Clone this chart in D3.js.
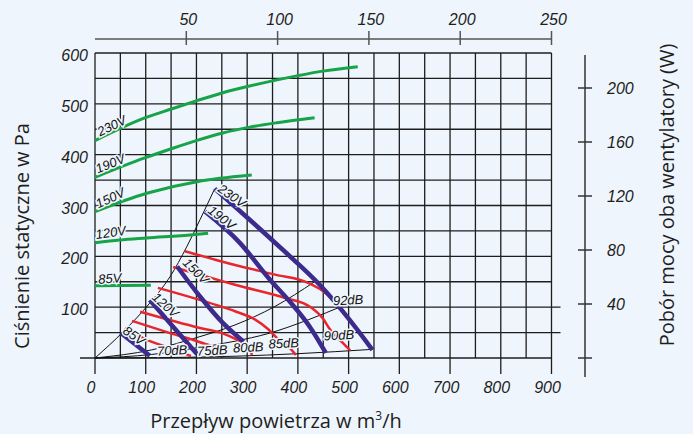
<!DOCTYPE html>
<html><head><meta charset="utf-8">
<script src="https://cdn.jsdelivr.net/npm/d3@7/dist/d3.min.js"></script>
<style>html,body{margin:0;padding:0;background:#eef5fc;overflow:hidden}</style>
</head><body><svg id="c" width="693" height="434"></svg>
<script>
// ---------- data ----------
const flowTicks = [0,100,200,300,400,500,600,700,800,900];
const pressureTicks = [100,200,300,400,500,600];
const powerTicks = [0,40,80,120,160,200];
const topTicks = [50,100,150,200,250];

// power curves [flow m3/h, power W]
const power230 = [[0,161],[98,177.8],[152,184.6],[201,190.6],[252,196.5],[305,201.5],[350,205.3],[398,209],[449,212.5],[518,215.8]];
const power190 = [[0,133.9],[98,148.2],[152,155.2],[201,161.2],[252,166.7],[305,171],[359,174.3],[433,178]];
const power150 = [[0,108.4],[102,122],[201,130.6],[246,133.1],[309,135.6]];
const power120 = [[0,85.4],[49,87.4],[102,88.9],[193,91.3],[223,92.4]];
const power85  = [[0,53.5],[110,53.8]];
const powerNames = ["230V","190V","150V","120V","85V"];

// fan curves [flow, Pa]
const fan230 = [[236,333],[305,272],[370,213],[443,144],[502,75],[547,16]];
const fan190 = [[217,288],[286,226],[345,154],[384,111],[423,62],[455,10]];
const fan150 = [[162,180],[207,121],[253,68],[293,32]];
const fan120 = [[108,114],[151,65],[201,8]];
const fan85  = [[51,49],[108,4.5]];
const fanNames = ["230V","190V","150V","120V","85V"];

// system curves [flow, Pa]
const sysEnvelope = [[0,0],[56,52],[108,108],[148,160],[181,219],[207,272],[236,333]];
const sysA = [[0,0],[112,16],[200,40],[276,65],[354,101],[433,150]];
const sysB = [[0,0],[112,7],[200,20],[276,33],[341,48],[420,75],[492,104]];
const sysC = [[0,0],[150,1],[276,3.5],[400,8.5],[547,17]];

// noise curves [flow, Pa]
const db92 = [[177,210],[276,183],[355,164],[420,148],[449,132],[467,117],[489,92]];
const db90 = [[154,179],[231,157],[276,144],[375,118],[425,100],[449,78],[462,58],[487,31],[503,15]];
const db85 = [[124,138],[240,104],[276,92],[315,76],[341,57],[358,40],[384,20],[396,6]];
const db80 = [[89,91],[207,59],[253,48],[280,36],[296,27],[310,6]];
const db75 = [[73,73],[148,49],[207,31],[237,19],[252,4]];
const db70 = [[59,59],[104,35],[152,18],[189,4]];
const dbNames = ["92dB","90dB","85dB","80dB","75dB","70dB"];

// ---------- layout ----------
const BG = "#eef5fc", INK = "#1e1e1e";
const x = d3.scaleLinear().domain([0,900]).range([95,551.5]);
const xTop = d3.scaleLinear().domain([0,250]).range([95,551.5]);
const yP = d3.scaleLinear().domain([0,600]).range([358,53]);
const yW = d3.scaleLinear().domain([0,200]).range([358,88]);

const svg = d3.select("#c");
svg.append("rect").attr("width",693).attr("height",434).attr("fill",BG);

const numFont = "'Liberation Sans', Arial, sans-serif";
const titleFont = "'Open Sans', 'Noto Sans', sans-serif";

// grid
const g = svg.append("g").attr("stroke",INK).attr("stroke-width",1.3).attr("fill","none");
d3.range(0,901,50).forEach(v=>{
  g.append("line").attr("x1",x(v)).attr("x2",x(v)).attr("y1",yP(600))
   .attr("y2", v%100===0 ? yP(0)+16 : yP(0));
});
d3.range(0,601,50).forEach(v=>{
  let x1 = v===0 ? x(0)-15 : x(0);
  let x2 = (v===50||v===100) ? x(900)+9 : x(900);
  g.append("line").attr("x1",x1).attr("x2",x2).attr("y1",yP(v)).attr("y2",yP(v));
});

// top axis
const ta = svg.append("g").attr("stroke","#555").attr("stroke-width",1.5);
ta.append("line").attr("x1",xTop(0)).attr("x2",xTop(250)).attr("y1",39).attr("y2",39);
topTicks.forEach(t=>ta.append("line").attr("x1",xTop(t)).attr("x2",xTop(t)).attr("y1",31).attr("y2",45));
svg.append("g").selectAll("text").data(topTicks).join("text")
  .attr("x",d=>xTop(d)+2).attr("y",25).attr("text-anchor","middle")
  .attr("font-family",numFont).attr("font-style","italic").attr("font-size",16).attr("fill",INK)
  .text(d=>d);

// right axis
const ra = svg.append("g").attr("stroke","#333").attr("stroke-width",1.5);
ra.append("line").attr("x1",585).attr("x2",585).attr("y1",55).attr("y2",377);
powerTicks.forEach(t=>ra.append("line").attr("x1",578).attr("x2",592).attr("y1",yW(t)).attr("y2",yW(t)));
svg.append("g").selectAll("text").data(powerTicks.filter(d=>d>0)).join("text")
  .attr("x",607).attr("y",d=>yW(d)+6).attr("text-anchor","start")
  .attr("font-family",numFont).attr("font-style","italic").attr("font-size",16).attr("fill",INK)
  .text(d=>d);

// left & bottom tick labels
svg.append("g").selectAll("text").data(pressureTicks).join("text")
  .attr("x",88).attr("y",d=>yP(d)+8).attr("text-anchor","end")
  .attr("font-family",numFont).attr("font-style","italic").attr("font-size",16).attr("fill",INK)
  .text(d=>d);
svg.append("g").selectAll("text").data(flowTicks).join("text")
  .attr("x",d=>x(d)-4).attr("y",393).attr("text-anchor","middle")
  .attr("font-family",numFont).attr("font-style","italic").attr("font-size",16).attr("fill",INK)
  .text(d=>d);

// titles
svg.append("text").attr("x",276).attr("y",428).attr("text-anchor","middle")
  .attr("font-family",titleFont).attr("font-size",20).attr("fill",INK)
  .html("Przepływ powietrza w m<tspan font-size='12' dy='-8'>3</tspan><tspan dy='8'>/h</tspan>");
svg.append("text").attr("transform","translate(29,236) rotate(-90)").attr("text-anchor","middle")
  .attr("font-family",titleFont).attr("font-size",20).attr("fill",INK)
  .text("Ciśnienie statyczne w Pa");
svg.append("text").attr("transform","translate(674,195) rotate(-90)").attr("text-anchor","middle")
  .attr("font-family",titleFont).attr("font-size",20).attr("fill",INK)
  .text("Pobór mocy oba wentylatory (W)");

const lineP = d3.line().x(d=>x(d[0])).y(d=>yP(d[1])).curve(d3.curveMonotoneX);
const lineW = d3.line().x(d=>x(d[0])).y(d=>yW(d[1])).curve(d3.curveMonotoneX);

// system curves
[sysEnvelope, sysA, sysB, sysC].forEach(s=>{
  svg.append("path").attr("d",lineP(s)).attr("fill","none").attr("stroke","#111").attr("stroke-width",1);
});

// noise curves
[db92,db90,db85,db80,db75,db70].forEach(s=>{
  svg.append("path").attr("d",lineP(s)).attr("fill","none").attr("stroke","#e8262d").attr("stroke-width",2.5);
});

// fan curves
[fan230,fan190,fan150,fan120,fan85].forEach(s=>{
  svg.append("path").attr("d",lineP(s)).attr("fill","none").attr("stroke","#3c2a8c").attr("stroke-width",4.5);
});

// power curves
[power230,power190,power150,power120,power85].forEach(s=>{
  svg.append("path").attr("d",lineW(s)).attr("fill","none").attr("stroke","#17a348").attr("stroke-width",3);
});

// labels (positions in data units, layout only)
function label(txt, px, py, rot){
  svg.append("text").attr("transform",`translate(${px},${py}) rotate(${rot})`)
    .attr("text-anchor","middle").attr("dominant-baseline","central")
    .attr("font-family",numFont).attr("font-style","italic").attr("font-size",13)
    .attr("fill","#111").attr("stroke",BG).attr("stroke-width",3).attr("paint-order","stroke")
    .text(txt);
}
const powerLabelPos = [[33,172,-26],[30,144,-22],[30,118.5,-25],[31,93,-8],[29,59,-4]];
powerNames.forEach((n,i)=>{const p=powerLabelPos[i]; label(n, x(p[0]), yW(p[1]), p[2]);});
const fanLabelPos = [[270,319,35],[250,276,38],[199,171,45],[139,104,42],[77,44,35]];
fanNames.forEach((n,i)=>{const p=fanLabelPos[i]; label(n, x(p[0]), yP(p[1]), p[2]);});
const dbLabelPos = [[499,114,-3],[481,45,-3],[372,29,-3],[302,21,-3],[231,15,-3],[152,15,-3]];
dbNames.forEach((n,i)=>{const p=dbLabelPos[i]; label(n, x(p[0]), yP(p[1]), p[2]);});
</script></body></html>
